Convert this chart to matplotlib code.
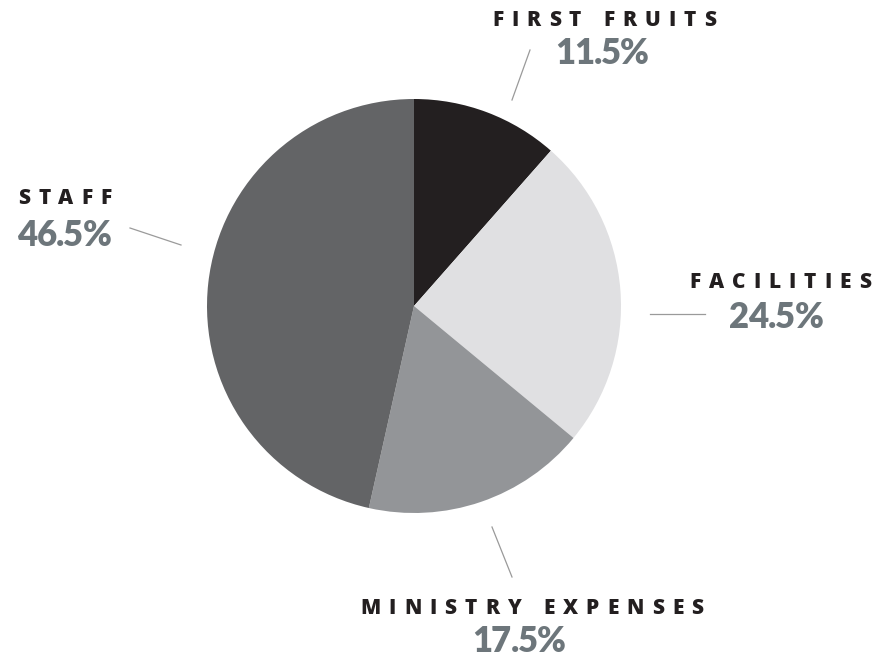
import matplotlib.pyplot as plt
from matplotlib.font_manager import FontProperties

labels = ['FIRST FRUITS', 'FACILITIES', 'MINISTRY EXPENSES', 'STAFF']
values = [11.5, 24.5, 17.5, 46.5]
colors = ['#231f20', '#e0e0e2', '#939598', '#636466']

W, H = 877, 663

fig = plt.figure(figsize=(8.77, 6.63), dpi=100)
ax = fig.add_axes([0, 0, 1, 1])

ax.pie(values, colors=colors, startangle=90, counterclock=False,
       center=(414, H - 306), radius=207, frame=True,
       wedgeprops=dict(linewidth=0))
ax.set_xlim(0, W)
ax.set_ylim(0, H)
ax.set_aspect('equal')
ax.axis('off')

renderer = fig.canvas.get_renderer()


def tracked(x, y, s, ha, track, size, weight, family, color):
    # draw a string letter by letter with extra spacing between letters
    fp = FontProperties(family=family, weight=weight, size=size)
    px_per_pt = fig.dpi / 72.0
    widths = []
    for ch in s:
        w, _, _ = renderer.get_text_width_height_descent(ch, fp, ismath=False)
        if ch == ' ':
            w = size * px_per_pt * 0.3
        widths.append(w)
    total = sum(widths) + track * (len(s) - 1)
    if ha == 'center':
        x0 = x - total / 2
    elif ha == 'right':
        x0 = x - total
    else:
        x0 = x
    for ch, w in zip(s, widths):
        ax.text(x0, y, ch, ha='left', va='center', fontproperties=fp, color=color)
        x0 += w + track


# label layout: (title x, title y, pct x, pct y, ha, line)
layout = {
    'FIRST FRUITS': (604, 21, 602, 53, 'center', ((512, 100), (530, 50))),
    'FACILITIES': (871, 283, 776, 318, 'right', ((650, 314), (705, 314))),
    'MINISTRY EXPENSES': (532, 609, 519, 641, 'center', ((492, 527), (512, 577))),
    'STAFF': (18, 198, 17, 236, 'left', ((181, 245), (130, 228))),
}

for lab, val in zip(labels, values):
    tx, ty, px, py, ha, line = layout[lab]
    tracked(tx, H - ty, lab, ha, 8.0, 15, 'heavy', 'Open Sans', '#231f20')
    pha = 'left' if ha == 'left' else 'center'
    tracked(px, H - py, f'{val}%', pha, -0.8, 25, 'heavy', 'Lato', '#6d767b')
    (x0, y0), (x1, y1) = line
    ax.plot([x0, x1], [H - y0, H - y1], color='#9a9a9a', lw=0.9)

fig.savefig('out.png', dpi=100, facecolor='white')
